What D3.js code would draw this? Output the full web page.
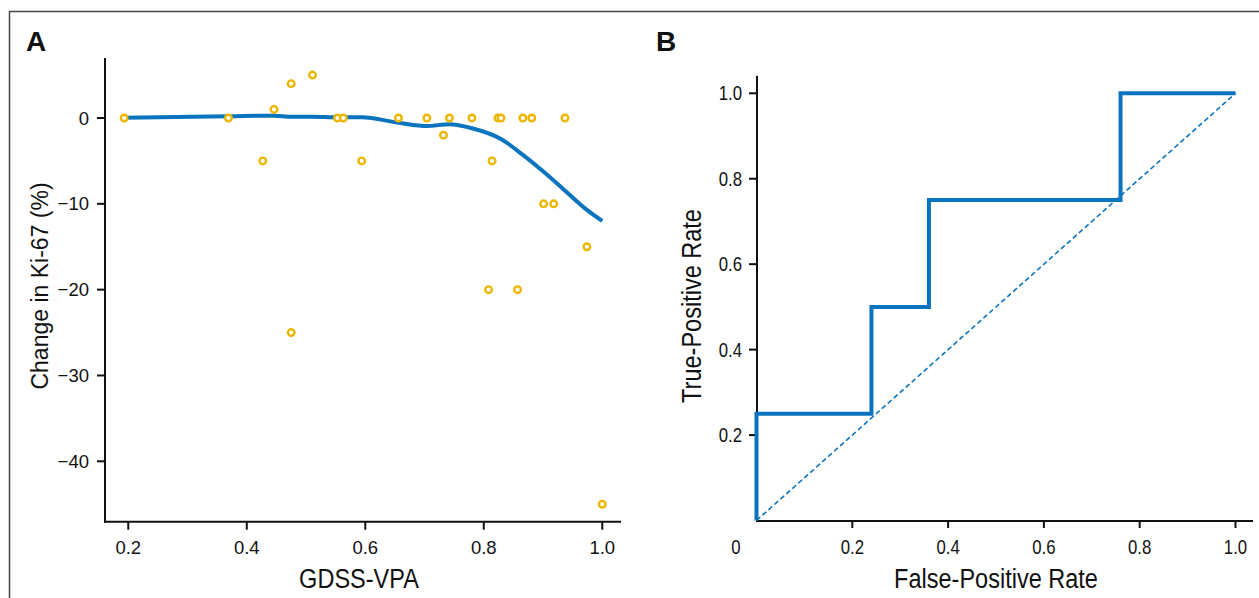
<!DOCTYPE html>
<html>
<head>
<meta charset="utf-8">
<script src="https://cdn.jsdelivr.net/npm/d3@7"></script>
<style>
  body { margin: 0; background: #fff; }
  svg text { font-family: "Liberation Sans", Arial, Helvetica, sans-serif; fill: #111; }
  .axis line { stroke: #111; stroke-width: 2px; }
</style>
</head>
<body>
<div id="chart"></div>
<script>
// panel A: GDSS-VPA vs change in Ki-67
var gdss = [0.193, 0.369, 0.427, 0.446, 0.475, 0.475, 0.511, 0.553, 0.563, 0.594, 0.656,
            0.704, 0.732, 0.742, 0.780, 0.808, 0.814, 0.824, 0.829, 0.857, 0.866, 0.881,
            0.901, 0.918, 0.937, 0.974, 1.000];
var ki67 = [0, 0, -5, 1, 4, -25, 5, 0, 0, -5, 0,
            0, -2, 0, 0, -20, -5, 0, 0, -20, 0, 0,
            -10, -10, 0, -15, -45];
// smoothed fit
var fitX = [0.193, 0.369, 0.446, 0.475, 0.511, 0.553, 0.594, 0.656, 0.704, 0.742, 0.780,
            0.829, 0.866, 0.901, 0.933, 0.974, 1.000];
var fitY = [0.04, 0.2, 0.27, 0.15, 0.15, 0.08, 0.08, -0.55, -0.93, -0.73, -1.2,
            -2.45, -4.3, -6.26, -8.2, -10.7, -12.0];
var aXTicks = [0.2, 0.4, 0.6, 0.8, 1.0];
var aYTicks = [0, -10, -20, -30, -40];

// panel B: ROC curve
var fpr = [0, 0, 0.24, 0.24, 0.36, 0.36, 0.76, 0.76, 1.0];
var tpr = [0, 0.25, 0.25, 0.5, 0.5, 0.75, 0.75, 1.0, 1.0];
var bXTicks = [0.2, 0.4, 0.6, 0.8, 1.0];
var bYTicks = [0.2, 0.4, 0.6, 0.8, 1.0];

var W = 1259, H = 598;
var blue = "#0a74bf", yellow = "#ebb700";
var FONT = "'Liberation Sans', Arial, Helvetica, sans-serif";
var SQ = 0.84; // horizontal squeeze for the condensed labels

var svg = d3.select("#chart").append("svg")
    .attr("width", W).attr("height", H);

// condensed text: real text, squeezed horizontally
function narrow(g, x, y, size, str, anchor, rot) {
    return g.append("text")
        .attr("transform", "translate(" + x + "," + y + ")" + (rot ? " rotate(" + rot + ")" : "") + " scale(" + SQ + ",1)")
        .attr("text-anchor", anchor || "middle")
        .style("font-family", FONT).style("font-size", size + "px")
        .text(str);
}

// frame
svg.append("path")
    .attr("d", "M9.5," + H + "V11.5H" + W)
    .attr("fill", "none").attr("stroke", "#444").attr("stroke-width", 1.5);

// ---------- panel A ----------
var xA = d3.scaleLinear().domain([0.1607, 1.0316]).range([105, 621]);
var yA = d3.scaleLinear().domain([0, -40]).range([118, 461.3]);
var yA0 = 521.7, yTop = 58;

svg.append("text").attr("x", 26).attr("y", 51)
    .style("font-family", FONT).style("font-size", "28px").style("font-weight", "bold").text("A");

var axA = svg.append("g").attr("class", "axis");
axA.append("line").attr("x1", 105).attr("x2", 105).attr("y1", yTop).attr("y2", yA0 + 1);
axA.append("line").attr("x1", 104).attr("x2", 621).attr("y1", yA0).attr("y2", yA0);
axA.selectAll(".yt").data(aYTicks).enter().append("line")
    .attr("x1", 97).attr("x2", 105).attr("y1", d => yA(d)).attr("y2", d => yA(d));
axA.selectAll(".yl").data(aYTicks).enter().append("text")
    .attr("x", 89).attr("y", d => yA(d)).attr("dy", "0.36em")
    .attr("text-anchor", "end").style("font-size", "18.5px")
    .text(d => d === 0 ? "0" : "\u2212" + Math.abs(d));
axA.selectAll(".xt").data(aXTicks).enter().append("line")
    .attr("x1", d => xA(d)).attr("x2", d => xA(d)).attr("y1", yA0).attr("y2", yA0 + 8);
axA.selectAll(".xl").data(aXTicks).enter().append("text")
    .attr("x", d => xA(d)).attr("y", 554)
    .attr("text-anchor", "middle").style("font-size", "18.5px")
    .text(d => d.toFixed(1));

narrow(svg, 359, 588, 28, "GDSS-VPA");
svg.append("text")
    .attr("transform", "translate(48,286) rotate(-90)")
    .attr("text-anchor", "middle").style("font-size", "23px")
    .text("Change in Ki-67 (%)");

var fit = d3.range(fitX.length).map(i => [fitX[i], fitY[i]]);
svg.append("path").datum(fit)
    .attr("fill", "none").attr("stroke", blue).attr("stroke-width", 4)
    .attr("stroke-linejoin", "round")
    .attr("d", d3.line().x(d => xA(d[0])).y(d => yA(d[1])).curve(d3.curveMonotoneX));

svg.selectAll(".pt").data(d3.range(gdss.length)).enter().append("circle")
    .attr("cx", i => xA(gdss[i])).attr("cy", i => yA(ki67[i])).attr("r", 3.3)
    .attr("fill", "#fff").attr("stroke", yellow).attr("stroke-width", 2.4);

// ---------- panel B ----------
var xB = d3.scaleLinear().domain([0, 1]).range([756.5, 1235.5]);
var yB = d3.scaleLinear().domain([0, 1]).range([520.5, 93.3]);
var bx0 = 757, by0 = 521;

svg.append("text").attr("x", 656).attr("y", 51)
    .style("font-family", FONT).style("font-size", "28px").style("font-weight", "bold").text("B");

var axB = svg.append("g").attr("class", "axis");
axB.append("line").attr("x1", bx0).attr("x2", bx0).attr("y1", 75.7).attr("y2", by0 + 1);
axB.append("line").attr("x1", bx0 - 1).attr("x2", 1253).attr("y1", by0).attr("y2", by0);
axB.selectAll(".yt").data(bYTicks).enter().append("line")
    .attr("x1", 749).attr("x2", bx0).attr("y1", d => yB(d)).attr("y2", d => yB(d));
bYTicks.forEach(d => narrow(svg, 742, yB(d) + 7, 20, d.toFixed(1), "end"));
axB.selectAll(".xt").data(bXTicks).enter().append("line")
    .attr("x1", d => xB(d)).attr("x2", d => xB(d)).attr("y1", by0).attr("y2", by0 + 7);
bXTicks.forEach(d => narrow(svg, xB(d), 554, 20, d.toFixed(1)));
narrow(svg, 736, 554, 20, "0");

narrow(svg, 996, 588, 28, "False-Positive Rate");
narrow(svg, 701, 306, 28, "True-Positive Rate", "middle", -90);

// chance diagonal
svg.append("line")
    .attr("x1", xB(0)).attr("y1", yB(0)).attr("x2", xB(1)).attr("y2", yB(1))
    .attr("stroke", blue).attr("stroke-width", 1.6).attr("stroke-dasharray", "5,3");

var roc = d3.range(fpr.length).map(i => [fpr[i], tpr[i]]);
svg.append("path").datum(roc)
    .attr("fill", "none").attr("stroke", blue).attr("stroke-width", 4)
    .attr("d", d3.line().x(d => xB(d[0])).y(d => yB(d[1])));
</script>
</body>
</html>
